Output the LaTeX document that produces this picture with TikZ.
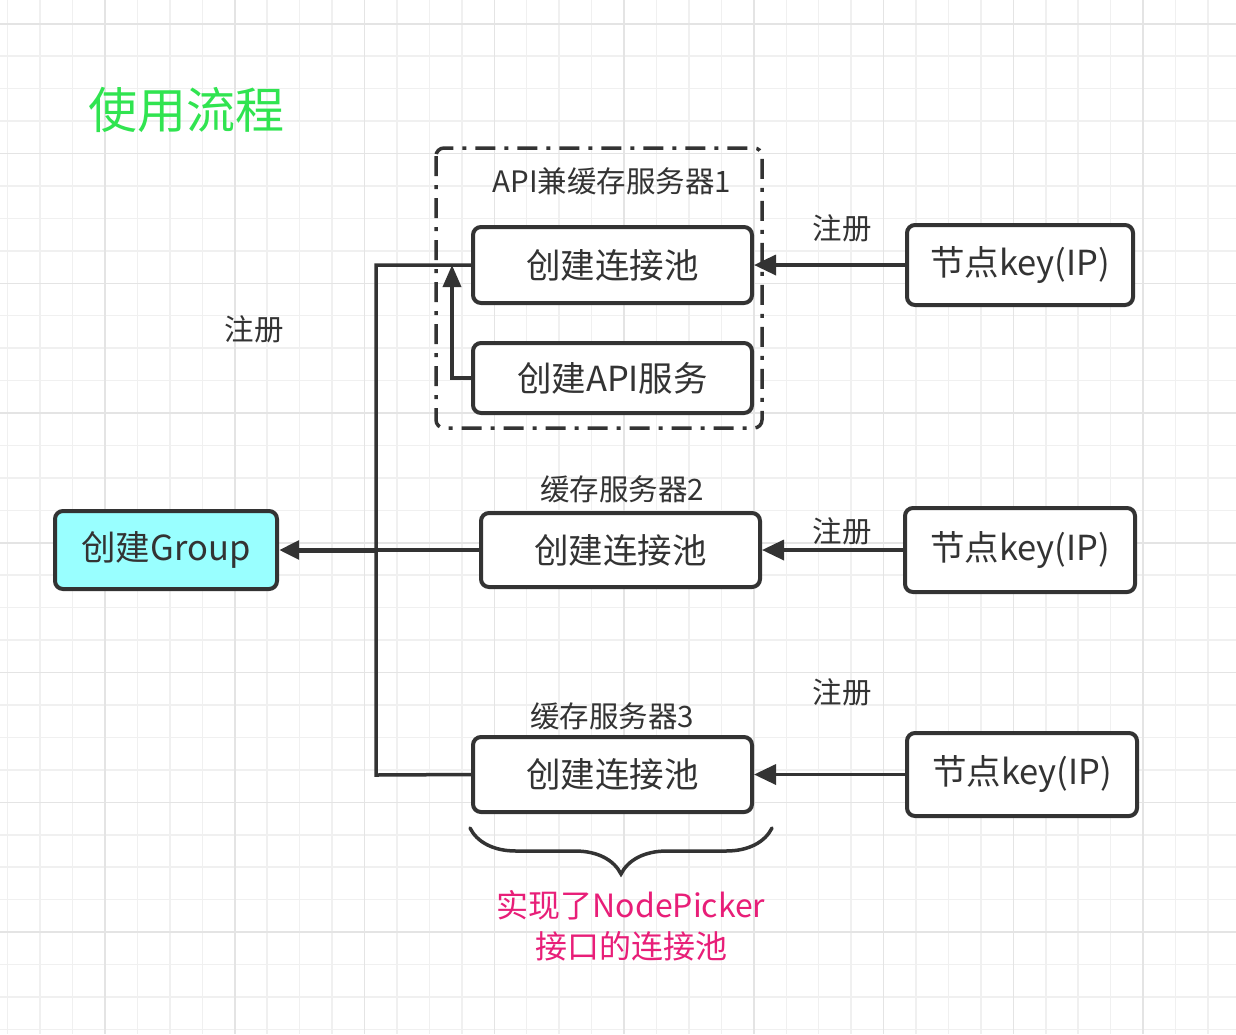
\documentclass[tikz,border=0pt]{standalone}
\usepackage{fontspec}
\newfontfamily\cjk{Noto Sans CJK SC}
\usetikzlibrary{arrows.meta,decorations.pathreplacing}
\definecolor{ink}{RGB}{51,51,51}
\definecolor{gridminor}{RGB}{240,240,240}
\definecolor{gridmajor}{RGB}{228,228,228}
\definecolor{titlegreen}{RGB}{48,228,80}
\definecolor{notepink}{RGB}{232,30,120}
\definecolor{groupcyan}{RGB}{153,255,255}
\tikzset{
  box/.style={draw=ink, line width=4pt, rounded corners=8pt, fill=white, inner sep=0pt, font=\cjk\fontsize{34.5}{38}\selectfont, text=ink},
  lbl/.style={font=\cjk\fontsize{29.5}{33}\selectfont, text=ink, inner sep=0pt},
  conn/.style={draw=ink, line width=3.5pt},
  arr/.style={conn, -{Triangle[length=22pt,width=20pt]}},
  container/.style={draw=ink, line width=3.5pt, rounded corners=8pt, dash pattern=on 20pt off 9pt on 4pt off 9pt},
}
\begin{document}
\begin{tikzpicture}[x=1pt,y=-1pt]
\useasboundingbox (0,0) rectangle (1236,1034);
\fill[white] (0,0) rectangle (1236,1034);
% grid
\foreach \k in {0,...,38} {
  \pgfmathsetmacro\xx{7.7+32.44*\k}
  \draw[gridminor, line width=1.5pt] (\xx,0) -- (\xx,1034);
}
\foreach \k in {0,...,32} {
  \pgfmathsetmacro\yy{-8.7+32.44*\k}
  \draw[gridminor, line width=1.5pt] (0,\yy) -- (1236,\yy);
}
\foreach \k in {0,...,9} {
  \pgfmathsetmacro\xx{105+129.76*\k}
  \draw[gridmajor, line width=1.5pt] (\xx,0) -- (\xx,1034);
}
\foreach \k in {0,...,7} {
  \pgfmathsetmacro\yy{23.75+129.76*\k}
  \draw[gridmajor, line width=1.5pt] (0,\yy) -- (1236,\yy);
}

% title
\node[font=\cjk\fontsize{49}{54}\selectfont, text=titlegreen, inner sep=0pt] (title) at (186,110) {使用流程};

% container
\draw[container] (436,148) rectangle (762,428);
\node[lbl] (c1label) at (612,181) {API兼缓存服务器1};

% boxes
\node[box, minimum width=279pt, minimum height=76pt] (a1) at (612.5,265) {创建连接池};
\node[box, minimum width=279pt, minimum height=70pt] (a2) at (612.5,378) {创建API服务};
\node[box, minimum width=279pt, minimum height=74pt] (b) at (620.5,550) {创建连接池};
\node[lbl] (blabel) at (622,489) {缓存服务器2};
\node[box, minimum width=279pt, minimum height=75pt] (c) at (612.5,774.5) {创建连接池};
\node[lbl] (clabel) at (612,716) {缓存服务器3};
\node[box, fill=groupcyan, minimum width=222pt, minimum height=78pt] (group) at (166,550) {创建Group};

\node[box, minimum width=226pt, minimum height=80pt] (r1) at (1020,265) {节点key(IP)};
\node[box, minimum width=230pt, minimum height=84pt] (r2) at (1020,550) {节点key(IP)};
\node[box, minimum width=230pt, minimum height=83pt] (r3) at (1022,774.5) {节点key(IP)};

% labels
\node[lbl] (reg1) at (842,228) {注册};
\node[lbl] (reg2) at (842,531) {注册};
\node[lbl] (reg3) at (842,692) {注册};
\node[lbl] (reg0) at (254,329) {注册};

% connectors
\coordinate (jtop) at (376,265);
\coordinate (jmid) at (376,550);
\coordinate (jbot) at (376,775);
\coordinate (aup) at (452,265);
\draw[conn] (a1.west) -- (jtop) -- (jbot) -- (c.west);
\draw[conn] (b.west) -- (jmid);
\draw[arr, line width=5pt, -{Triangle[length=20pt,width=18pt]}] (jmid) -- (group.east);
\draw[arr, -{Triangle[length=22pt,width=18pt]}] (a2.west) -| (aup);

\draw[arr] (r1.west) -- (a1.east);
\draw[arr] (r2.west) -- (b.east);
\draw[arr] (r3.west) -- (c.east);

% brace
\coordinate (brl) at (470,828);
\coordinate (brr) at (772,828);
\draw[draw=ink, line width=3.5pt, line cap=round, decorate, decoration={brace, mirror, amplitude=46pt, aspect=0.5}] (brl) -- (brr);
\node[font=\cjk\fontsize{32}{41}\selectfont, text=notepink, align=center, inner sep=0pt] (note) at (631,926) {实现了NodePicker\\接口的连接池};
\end{tikzpicture}
\end{document}
